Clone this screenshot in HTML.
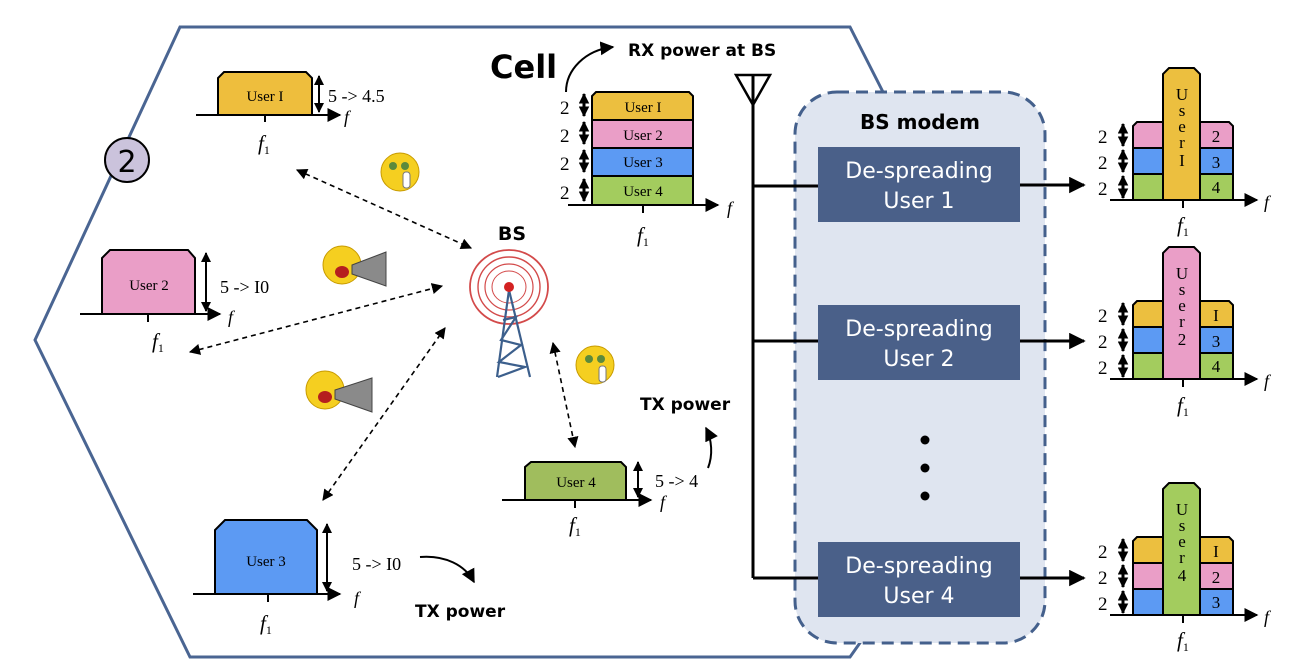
<!DOCTYPE html>
<html><head><meta charset="utf-8"><style>
body{margin:0;background:#fff}
svg{display:block}
.s{font-family:"Liberation Serif",serif}
.b{font-family:"DejaVu Sans","Liberation Sans",sans-serif;font-weight:bold}
</style></head><body>
<svg width="1292" height="662" viewBox="0 0 1292 662" xmlns="http://www.w3.org/2000/svg">
<defs>
<marker id="ah" viewBox="0 0 10 10" refX="9" refY="5" markerWidth="7" markerHeight="7" orient="auto-start-reverse"><path d="M0,0L10,5L0,10z" fill="#000"/></marker>
<marker id="ah3" viewBox="0 0 10 10" refX="9" refY="5" markerWidth="5.5" markerHeight="5.5" orient="auto-start-reverse"><path d="M0,0L10,5L0,10z" fill="#000"/></marker>
<marker id="ab" viewBox="0 0 10 10" refX="9" refY="5" markerWidth="5" markerHeight="5" orient="auto-start-reverse"><path d="M0,0L10,5L0,10z" fill="#000"/></marker>
<marker id="ab2" viewBox="0 0 10 10" refX="9" refY="5" markerWidth="3.5" markerHeight="3.5" orient="auto-start-reverse"><path d="M0,0L10,5L0,10z" fill="#000"/></marker>
<g id="dbl"><line x1="0" y1="2" x2="0" y2="24" stroke="#000" stroke-width="3" marker-start="url(#ab2)" marker-end="url(#ab2)"/></g>
</defs>
<!-- hexagon -->
<polyline points="883,92 850,27 180,27 35,340 190,657 850,657 862,640" fill="none" stroke="#4a6592" stroke-width="3"/>
<circle cx="127" cy="160" r="22" fill="#cbc3dc" stroke="#000" stroke-width="2"/>
<text x="127" y="172" font-size="30" text-anchor="middle" font-family="DejaVu Sans,sans-serif">2</text>

<!-- User1 -->
<path d="M218,115V78l6,-6h82l6,6v37z" fill="#eebe3d" stroke="#000" stroke-width="2"/>
<text x="265" y="101" class="s" font-size="15" text-anchor="middle">User I</text>
<line x1="196" y1="115" x2="340" y2="115" stroke="#000" stroke-width="2" marker-end="url(#ah)"/>
<line x1="265" y1="115" x2="265" y2="122" stroke="#000" stroke-width="2"/>
<line x1="319" y1="76" x2="319" y2="112" stroke="#000" stroke-width="2" marker-start="url(#ab)" marker-end="url(#ab)"/>
<text x="328" y="102" class="s" font-size="18">5 -&gt; 4.5</text>
<text x="344" y="123" class="s" font-size="18" font-style="italic">f</text>
<text x="258" y="150" class="s" font-size="21" font-style="italic">f<tspan font-size="12" font-style="normal" dy="4">1</tspan></text>

<!-- User2 -->
<path d="M102,314V258l8,-8h78l7,8v56z" fill="#ea9ec7" stroke="#000" stroke-width="2"/>
<text x="149" y="290" class="s" font-size="15" text-anchor="middle">User 2</text>
<line x1="80" y1="314" x2="220" y2="314" stroke="#000" stroke-width="2" marker-end="url(#ah)"/>
<line x1="148" y1="314" x2="148" y2="322" stroke="#000" stroke-width="2"/>
<line x1="206" y1="253" x2="206" y2="311" stroke="#000" stroke-width="2" marker-start="url(#ab)" marker-end="url(#ab)"/>
<text x="220" y="293" class="s" font-size="18">5 -&gt; I0</text>
<text x="228" y="323" class="s" font-size="18" font-style="italic">f</text>
<text x="152" y="348" class="s" font-size="21" font-style="italic">f<tspan font-size="12" font-style="normal" dy="4">1</tspan></text>

<!-- User3 -->
<path d="M215,594V530l10,-10h82l10,10v64z" fill="#5c9af3" stroke="#000" stroke-width="2"/>
<text x="266" y="566" class="s" font-size="15" text-anchor="middle">User 3</text>
<line x1="193" y1="594" x2="340" y2="594" stroke="#000" stroke-width="2" marker-end="url(#ah)"/>
<line x1="268" y1="594" x2="268" y2="602" stroke="#000" stroke-width="2"/>
<line x1="327" y1="524" x2="327" y2="591" stroke="#000" stroke-width="2" marker-start="url(#ab)" marker-end="url(#ab)"/>
<text x="352" y="570" class="s" font-size="18">5 -&gt; I0</text>
<text x="354" y="604" class="s" font-size="18" font-style="italic">f</text>
<text x="260" y="630" class="s" font-size="21" font-style="italic">f<tspan font-size="12" font-style="normal" dy="4">1</tspan></text>
<path d="M420,557C445,555 465,565 474,582" fill="none" stroke="#000" stroke-width="2" marker-end="url(#ah)"/>
<text x="415" y="617" class="b" font-size="17">TX power</text>

<!-- User4 -->
<path d="M525,500V467l6,-5h90l5,5v33z" fill="#a0bd5d" stroke="#000" stroke-width="2"/>
<text x="576" y="487" class="s" font-size="15" text-anchor="middle">User 4</text>
<line x1="502" y1="500" x2="651" y2="500" stroke="#000" stroke-width="2" marker-end="url(#ah)"/>
<line x1="575" y1="500" x2="575" y2="508" stroke="#000" stroke-width="2"/>
<line x1="638" y1="462" x2="638" y2="497" stroke="#000" stroke-width="2" marker-start="url(#ab)" marker-end="url(#ab)"/>
<text x="655" y="487" class="s" font-size="18">5 -&gt; 4</text>
<text x="660" y="508" class="s" font-size="18" font-style="italic">f</text>
<text x="569" y="532" class="s" font-size="21" font-style="italic">f<tspan font-size="12" font-style="normal" dy="4">1</tspan></text>
<path d="M708,468C713,455 712,440 706,428" fill="none" stroke="#000" stroke-width="2" marker-end="url(#ah)"/>
<text x="640" y="410" class="b" font-size="17">TX power</text>

<!-- dashed links -->
<g stroke="#000" stroke-width="1.6" stroke-dasharray="5,4" fill="none">
<line x1="297" y1="170" x2="471" y2="248" marker-start="url(#ah)" marker-end="url(#ah)"/>
<line x1="190" y1="352" x2="442" y2="286" marker-start="url(#ah)" marker-end="url(#ah)"/>
<line x1="323" y1="500" x2="445" y2="328" marker-start="url(#ah)" marker-end="url(#ah)"/>
<line x1="553" y1="343" x2="575" y2="447" marker-start="url(#ah)" marker-end="url(#ah)"/>
</g>

<!-- BS tower -->
<text x="512" y="240" class="b" font-size="19" text-anchor="middle">BS</text>
<g fill="none" stroke="#d34a4a" stroke-width="1.8">
<ellipse cx="509" cy="287" rx="39" ry="37"/>
<ellipse cx="509" cy="287" rx="31" ry="30" stroke-width="1.4"/>
<ellipse cx="509" cy="287" rx="24" ry="23" stroke-width="1.2"/>
<ellipse cx="509" cy="287" rx="17" ry="16" stroke-width="1"/>
</g>
<g stroke="#3c5f8c" stroke-width="2.2" fill="none">
<line x1="509" y1="290" x2="497" y2="377"/><line x1="509" y1="290" x2="530" y2="377"/>
<polyline points="503,320 516,317 501,340 521,345 499,362 525,367 498,377"/>
</g>
<circle cx="509" cy="287" r="5" fill="#d32222"/>

<!-- emojis -->
<g>
<circle cx="400" cy="172" r="19" fill="#f5cf20" stroke="#c89b00"/><circle cx="393" cy="166" r="4" fill="#5b8a3c"/><circle cx="405" cy="166" r="4" fill="#5b8a3c"/><rect x="403" y="172" width="7" height="16" rx="3" fill="#fff" stroke="#777"/>
<circle cx="342" cy="265" r="19" fill="#f5cf20" stroke="#c89b00"/><ellipse cx="342" cy="272" rx="7" ry="6" fill="#b51e1e"/><path d="M352,265L386,252V286L352,274z" fill="#8a8a8a" stroke="#444"/>
<circle cx="325" cy="390" r="19" fill="#f5cf20" stroke="#c89b00"/><ellipse cx="325" cy="397" rx="7" ry="6" fill="#b51e1e"/><path d="M335,390L372,378V412L335,399z" fill="#8a8a8a" stroke="#444"/>
<circle cx="595" cy="365" r="19" fill="#f5cf20" stroke="#c89b00"/><circle cx="589" cy="359" r="4" fill="#5b8a3c"/><circle cx="601" cy="359" r="4" fill="#5b8a3c"/><rect x="599" y="366" width="7" height="16" rx="3" fill="#fff" stroke="#777"/>
</g>

<!-- Cell / RX chart -->
<text x="490" y="78" class="b" font-size="32">Cell</text>
<text x="628" y="56" class="b" font-size="17">RX power at BS</text>
<path d="M566,92C566,70 585,50 613,47" fill="none" stroke="#000" stroke-width="2" marker-end="url(#ah)"/>
<path d="M592,205V96l4,-4h93l4,4v109z" fill="#ecbf3f" stroke="#000" stroke-width="2"/>
<rect x="592" y="120" width="101" height="28" fill="#ea9ec7" stroke="#000" stroke-width="2"/>
<rect x="592" y="148" width="101" height="28" fill="#5c9af3" stroke="#000" stroke-width="2"/>
<rect x="592" y="176" width="101" height="29" fill="#a3cc5e" stroke="#000" stroke-width="2"/>
<g class="s" font-size="15" text-anchor="middle"><text x="643" y="112">User I</text><text x="643" y="140">User 2</text><text x="643" y="167">User 3</text><text x="643" y="196">User 4</text></g>
<line x1="568" y1="205" x2="718" y2="205" stroke="#000" stroke-width="2" marker-end="url(#ah)"/>
<line x1="643" y1="205" x2="643" y2="213" stroke="#000" stroke-width="2"/>
<g transform="translate(584,92)"><use href="#dbl"/></g><g transform="translate(584,120)"><use href="#dbl"/></g><g transform="translate(584,148)"><use href="#dbl"/></g><g transform="translate(584,177)"><use href="#dbl"/></g>
<g class="s" font-size="19"><text x="560" y="114">2</text><text x="560" y="142">2</text><text x="560" y="170">2</text><text x="560" y="199">2</text></g>
<text x="727" y="214" class="s" font-size="18" font-style="italic">f</text>
<text x="637" y="242" class="s" font-size="21" font-style="italic">f<tspan font-size="12" font-style="normal" dy="4">1</tspan></text>

<!-- BS modem -->
<rect x="795" y="92" width="250" height="551" rx="42" fill="#dfe5f0" stroke="#44608c" stroke-width="3" stroke-dasharray="12,7"/>
<text x="920" y="129" class="b" font-size="20" text-anchor="middle">BS modem</text>
<g fill="#4a6089"><rect x="818" y="147" width="202" height="75"/><rect x="818" y="305" width="202" height="75"/><rect x="818" y="542" width="202" height="75"/></g>
<g fill="#fff" font-family="DejaVu Sans,sans-serif" font-size="22" text-anchor="middle">
<text x="919" y="178">De-spreading</text><text x="919" y="208">User 1</text>
<text x="919" y="336">De-spreading</text><text x="919" y="366">User 2</text>
<text x="919" y="573">De-spreading</text><text x="919" y="603">User 4</text>
</g>
<g fill="#000"><circle cx="925" cy="440" r="4.5"/><circle cx="925" cy="468" r="4.5"/><circle cx="925" cy="496" r="4.5"/></g>

<!-- antenna -->
<path d="M736,75H770L753,105z" fill="none" stroke="#000" stroke-width="2.5"/>
<g stroke="#000" stroke-width="3">
<line x1="753" y1="75" x2="753" y2="578"/>
<line x1="753" y1="186" x2="818" y2="186"/>
<line x1="753" y1="341" x2="818" y2="341"/>
<line x1="753" y1="578" x2="818" y2="578"/>
</g>
<g stroke="#000" stroke-width="3">
<line x1="1020" y1="185" x2="1084" y2="185" marker-end="url(#ah3)"/>
<line x1="1020" y1="341" x2="1084" y2="341" marker-end="url(#ah3)"/>
<line x1="1020" y1="578" x2="1084" y2="578" marker-end="url(#ah3)"/>
</g>

<!-- right charts -->
<g transform="translate(0,200)">
<path d="M1133,0V-74l4,-4h26v78z" fill="#ea9ec7" stroke="#000" stroke-width="2"/>
<rect x="1133" y="-52" width="30" height="26" fill="#5c9af3" stroke="#000" stroke-width="2"/>
<rect x="1133" y="-26" width="30" height="26" fill="#a3cc5e" stroke="#000" stroke-width="2"/>
<path d="M1200,0V-78h29l4,4v74z" fill="#ea9ec7" stroke="#000" stroke-width="2"/>
<rect x="1200" y="-52" width="33" height="26" fill="#5c9af3" stroke="#000" stroke-width="2"/>
<rect x="1200" y="-26" width="33" height="26" fill="#a3cc5e" stroke="#000" stroke-width="2"/>
<path d="M1163,0V-126l6,-6h25l6,6v126z" fill="#ecbf3f" stroke="#000" stroke-width="2"/>
<g class="s" font-size="17" text-anchor="middle"><text x="1182" y="-100">U</text><text x="1182" y="-84">s</text><text x="1182" y="-68">e</text><text x="1182" y="-52">r</text><text x="1182" y="-34">I</text>
<text x="1216" y="-58">2</text><text x="1216" y="-32">3</text><text x="1216" y="-7">4</text></g>
</g>
<g transform="translate(0,379)">
<path d="M1133,0V-74l4,-4h26v78z" fill="#ecbf3f" stroke="#000" stroke-width="2"/>
<rect x="1133" y="-52" width="30" height="26" fill="#5c9af3" stroke="#000" stroke-width="2"/>
<rect x="1133" y="-26" width="30" height="26" fill="#a3cc5e" stroke="#000" stroke-width="2"/>
<path d="M1200,0V-78h29l4,4v74z" fill="#ecbf3f" stroke="#000" stroke-width="2"/>
<rect x="1200" y="-52" width="33" height="26" fill="#5c9af3" stroke="#000" stroke-width="2"/>
<rect x="1200" y="-26" width="33" height="26" fill="#a3cc5e" stroke="#000" stroke-width="2"/>
<path d="M1163,0V-126l6,-6h25l6,6v126z" fill="#ea9ec7" stroke="#000" stroke-width="2"/>
<g class="s" font-size="17" text-anchor="middle"><text x="1182" y="-100">U</text><text x="1182" y="-84">s</text><text x="1182" y="-68">e</text><text x="1182" y="-52">r</text><text x="1182" y="-34">2</text>
<text x="1216" y="-58">I</text><text x="1216" y="-32">3</text><text x="1216" y="-7">4</text></g>
</g>
<g transform="translate(0,615)">
<path d="M1133,0V-74l4,-4h26v78z" fill="#ecbf3f" stroke="#000" stroke-width="2"/>
<rect x="1133" y="-52" width="30" height="26" fill="#ea9ec7" stroke="#000" stroke-width="2"/>
<rect x="1133" y="-26" width="30" height="26" fill="#5c9af3" stroke="#000" stroke-width="2"/>
<path d="M1200,0V-78h29l4,4v74z" fill="#ecbf3f" stroke="#000" stroke-width="2"/>
<rect x="1200" y="-52" width="33" height="26" fill="#ea9ec7" stroke="#000" stroke-width="2"/>
<rect x="1200" y="-26" width="33" height="26" fill="#5c9af3" stroke="#000" stroke-width="2"/>
<path d="M1163,0V-126l6,-6h25l6,6v126z" fill="#a3cc5e" stroke="#000" stroke-width="2"/>
<g class="s" font-size="17" text-anchor="middle"><text x="1182" y="-100">U</text><text x="1182" y="-84">s</text><text x="1182" y="-68">e</text><text x="1182" y="-52">r</text><text x="1182" y="-34">4</text>
<text x="1216" y="-58">I</text><text x="1216" y="-32">2</text><text x="1216" y="-7">3</text></g>
</g>
<g stroke="#000" stroke-width="2">
<line x1="1110" y1="200" x2="1257" y2="200" marker-end="url(#ah)"/><line x1="1183" y1="200" x2="1183" y2="208"/>
<line x1="1110" y1="379" x2="1257" y2="379" marker-end="url(#ah)"/><line x1="1183" y1="379" x2="1183" y2="387"/>
<line x1="1110" y1="615" x2="1257" y2="615" marker-end="url(#ah)"/><line x1="1183" y1="615" x2="1183" y2="623"/>
</g>
<g transform="translate(1123,122)"><use href="#dbl"/></g><g transform="translate(1123,148)"><use href="#dbl"/></g><g transform="translate(1123,174)"><use href="#dbl"/></g>
<g transform="translate(1123,301)"><use href="#dbl"/></g><g transform="translate(1123,327)"><use href="#dbl"/></g><g transform="translate(1123,353)"><use href="#dbl"/></g>
<g transform="translate(1123,537)"><use href="#dbl"/></g><g transform="translate(1123,563)"><use href="#dbl"/></g><g transform="translate(1123,589)"><use href="#dbl"/></g>
<g class="s" font-size="19">
<text x="1098" y="143">2</text><text x="1098" y="169">2</text><text x="1098" y="195">2</text>
<text x="1098" y="322">2</text><text x="1098" y="348">2</text><text x="1098" y="374">2</text>
<text x="1098" y="558">2</text><text x="1098" y="584">2</text><text x="1098" y="610">2</text>
</g>
<g class="s" font-size="18" font-style="italic"><text x="1264" y="208">f</text><text x="1264" y="387">f</text><text x="1264" y="623">f</text></g>
<g class="s" font-size="21" font-style="italic">
<text x="1177" y="232">f<tspan font-size="12" font-style="normal" dy="4">1</tspan></text>
<text x="1177" y="412">f<tspan font-size="12" font-style="normal" dy="4">1</tspan></text>
<text x="1177" y="647">f<tspan font-size="12" font-style="normal" dy="4">1</tspan></text>
</g>
</svg>
</body></html>
